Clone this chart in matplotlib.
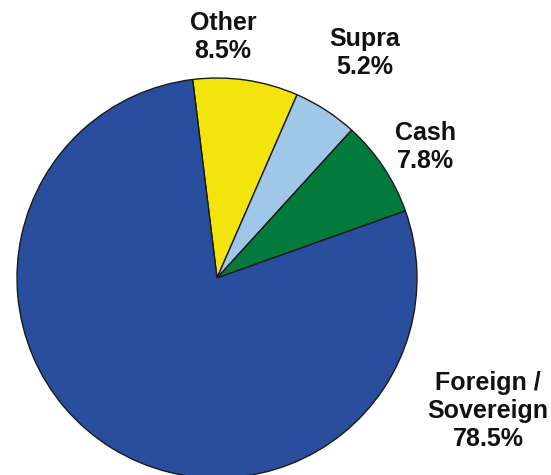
import matplotlib
matplotlib.use("Agg")
import matplotlib.pyplot as plt

# slice data, clockwise from the top
labels = ["Other", "Supra", "Cash", "Foreign /\nSovereign"]
shares = [8.5, 5.2, 7.8, 78.5]
colors = ["#F2E40C", "#A0C6E8", "#047A3C", "#2A4E9E"]

# label positions in pixels (x from left, y from top)
label_x = [223, 365, 425, 488]
label_y = [37, 53, 147, 411]

plt.rcParams["font.family"] = ["Liberation Sans", "DejaVu Sans"]

W, H = 551, 475
fig = plt.figure(figsize=(W / 100, H / 100), dpi=100)
ax = fig.add_axes([0, 0, 1, 1])

ax.pie(shares, colors=colors, startangle=97, counterclock=False,
       center=(217, H - 278), radius=200,
       wedgeprops=dict(edgecolor="#1a1a1a", linewidth=1.0))

for lab, val, x, y in zip(labels, shares, label_x, label_y):
    ax.text(x, H - y, f"{lab}\n{val}%", ha="center", va="center",
            fontsize=18, fontweight="bold", color="#111111",
            linespacing=1.22)

ax.set_xlim(0, W)
ax.set_ylim(0, H)
ax.set_aspect("equal")
ax.axis("off")

fig.savefig("out.png", dpi=100)
